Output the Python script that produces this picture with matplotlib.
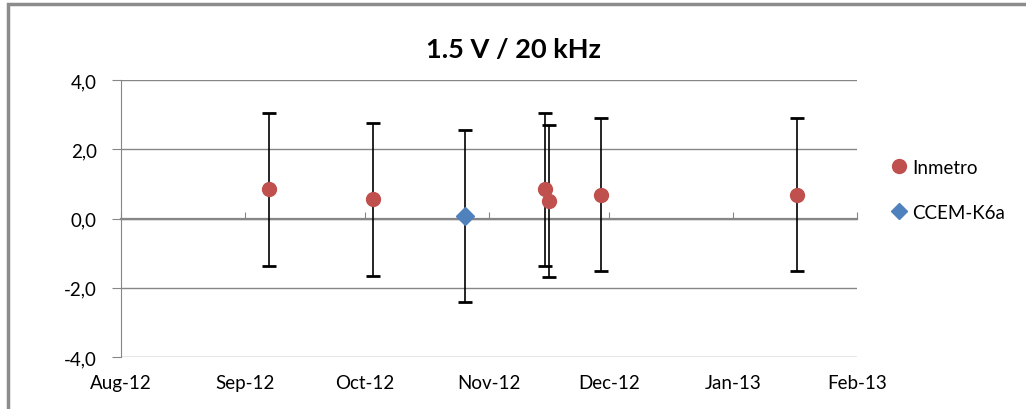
import datetime as dt
import matplotlib
matplotlib.use('Agg')
import matplotlib.pyplot as plt
import matplotlib.dates as mdates
from matplotlib.ticker import FuncFormatter, NullFormatter
from matplotlib.patches import Rectangle
from matplotlib.lines import Line2D

plt.rcParams['font.family'] = ['Lato', 'DejaVu Sans']

# datos
fechas_inmetro = [dt.datetime(2012, 9, 7), dt.datetime(2012, 10, 3), dt.datetime(2012, 11, 15),
                  dt.datetime(2012, 11, 16), dt.datetime(2012, 11, 29), dt.datetime(2013, 1, 17)]
valores_inmetro = [0.84, 0.55, 0.84, 0.51, 0.69, 0.69]
error_inmetro = [2.22, 2.22, 2.20, 2.20, 2.21, 2.22]

fechas_ccem = [dt.datetime(2012, 10, 26)]
valores_ccem = [0.07]
error_ccem = [2.48]

meses = [dt.datetime(2012, m, 1) for m in range(8, 13)] + [dt.datetime(2013, 1, 1), dt.datetime(2013, 2, 1)]
etiquetas_y = [-4, -2, 0, 2, 4]

gris = '#868686'
rojo = '#C0504D'
azul = '#4F81BD'

fig = plt.figure(figsize=(10.26, 4.10), dpi=100)
ax = fig.add_axes([0.1179, 0.1268, 0.7174, 0.6756])

# borde del grafico (recortado a la derecha y abajo)
fig.patches.append(Rectangle((0.0078, -0.05), 1.2, 1.037, transform=fig.transFigure,
                             fill=False, edgecolor='#8c8c8c', linewidth=2.5))

ax.errorbar(fechas_inmetro, valores_inmetro, yerr=error_inmetro, fmt='o', color=rojo,
            markersize=10, ecolor='black', elinewidth=1.2, capsize=4.7, capthick=2, zorder=3)
ax.errorbar(fechas_ccem, valores_ccem, yerr=error_ccem, fmt='D', color=azul,
            markersize=9.5, ecolor='black', elinewidth=1.2, capsize=4.7, capthick=2, zorder=3)

ax.set_xlim(meses[0], meses[-1])
ax.set_ylim(-4, 4)
ax.set_yticks(etiquetas_y)
ax.yaxis.set_major_formatter(FuncFormatter(lambda v, p: ('%.1f' % v).replace('.', ',')))
ax.set_xticks(meses)
ax.xaxis.set_major_formatter(mdates.DateFormatter('%b-%y'))

ax.grid(axis='y', color=gris, linewidth=1)
ax.set_axisbelow(True)
for s in ['top', 'right', 'bottom']:
    ax.spines[s].set_visible(False)
ax.spines['left'].set_color(gris)
ax.tick_params(axis='y', direction='out', length=6.5, color=gris, labelsize=13.5, pad=11)
ax.tick_params(axis='x', length=0, labelsize=13.5, pad=12)

# eje x cruzando en cero con marcas hacia arriba
eje0 = ax.secondary_xaxis(0.5)
eje0.set_xticks(meses)
eje0.xaxis.set_major_formatter(NullFormatter())
eje0.xaxis.set_ticks_position('top')
eje0.tick_params(direction='out', length=5, color=gris, labelbottom=False, labeltop=False)
for s in eje0.spines.values():
    s.set_color(gris)
    s.set_linewidth(1.6)

fig.text(0.5, 0.878, '1.5 V / 20 kHz', ha='center', va='center', fontsize=19.5, fontweight='bold')

manejadores = [Line2D([], [], marker='o', linestyle='none', color=rojo, markersize=10),
               Line2D([], [], marker='D', linestyle='none', color=azul, markersize=8)]
fig.legend(manejadores, ['Inmetro', 'CCEM-K6a'], loc='center left', bbox_to_anchor=(0.862, 0.535),
           frameon=False, fontsize=13.5, handlelength=0.8, handletextpad=0.3, labelspacing=1.5,
           borderaxespad=0)

fig.savefig('out.png', dpi=100)
